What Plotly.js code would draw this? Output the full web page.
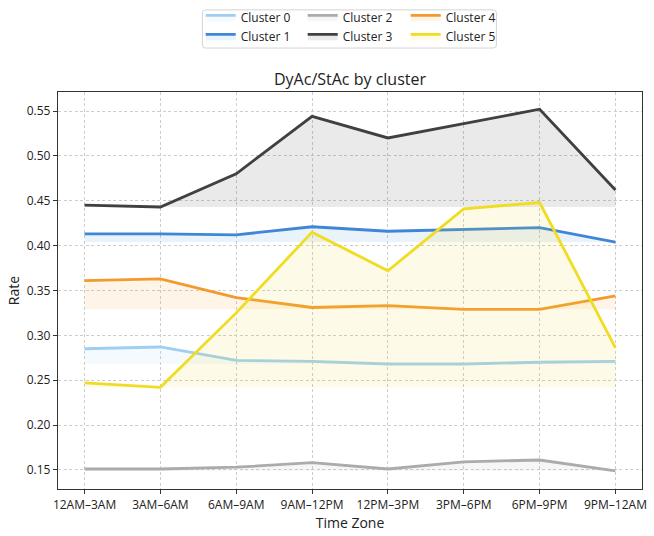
<!DOCTYPE html>
<html>
<head>
<meta charset="utf-8">
<script src="https://cdn.plot.ly/plotly-3.0.1.min.js"></script>
<style>
  html, body { margin: 0; padding: 0; background: #fff; }
  #chart { width: 654px; height: 536px; }
</style>
</head>
<body>
<div id="chart"></div>
<script>
// Time-of-day buckets on the x axis
const timeZones = ['12AM–3AM', '3AM–6AM', '6AM–9AM', '9AM–12PM', '12PM–3PM', '3PM–6PM', '6PM–9PM', '9PM–12AM'];

// DyAc/StAc rate per cluster
const cluster0 = [0.285, 0.287, 0.272, 0.271, 0.268, 0.268, 0.270, 0.271];
const cluster1 = [0.413, 0.413, 0.412, 0.421, 0.416, 0.418, 0.420, 0.404];
const cluster2 = [0.151, 0.151, 0.153, 0.158, 0.151, 0.159, 0.161, 0.149];
const cluster3 = [0.445, 0.443, 0.480, 0.544, 0.520, 0.536, 0.552, 0.462];
const cluster4 = [0.361, 0.363, 0.342, 0.331, 0.333, 0.329, 0.329, 0.344];
const cluster5 = [0.247, 0.242, 0.325, 0.415, 0.372, 0.441, 0.448, 0.286];

const seriesNames = ['Cluster 0', 'Cluster 1', 'Cluster 2', 'Cluster 3', 'Cluster 4', 'Cluster 5'];
const seriesValues = [cluster0, cluster1, cluster2, cluster3, cluster4, cluster5];
const seriesColors = ['#9fcff0', '#3f86d6', '#ababab', '#404040', '#f39a2e', '#f0dc22'];
// legend column each series is listed in
const legendIds = ['legend', 'legend', 'legend2', 'legend2', 'legend3', 'legend3'];

function hexToRgba(hex, a) {
  const n = parseInt(hex.slice(1), 16);
  return 'rgba(' + ((n >> 16) & 255) + ',' + ((n >> 8) & 255) + ',' + (n & 255) + ',' + a + ')';
}

const FONT = '"Open Sans", "DejaVu Sans", sans-serif';
const traces = [];
seriesValues.forEach(function (vals, i) {
  const lo = Math.min.apply(null, vals);
  // invisible baseline at the series minimum, so the shaded band hugs each line
  traces.push({
    x: timeZones, y: vals.map(function () { return lo; }),
    type: 'scatter', mode: 'lines',
    line: { width: 0, color: seriesColors[i] },
    showlegend: false, hoverinfo: 'skip'
  });
  traces.push({
    x: timeZones, y: vals, name: seriesNames[i],
    type: 'scatter', mode: 'lines',
    line: { color: seriesColors[i], width: 2.8 },
    fill: 'tonexty', fillcolor: hexToRgba(seriesColors[i], 0.11),
    legend: legendIds[i]
  });
});

const plotL = 58.3, plotR = 642.3, plotT = 91.7, plotB = 489;
const pw = plotR - plotL, ph = plotB - plotT;
const px2x = function (p) { return (p - plotL) / pw; };
const px2y = function (p) { return 1 + (plotT - p) / ph; };

const legendBase = {
  orientation: 'v', xanchor: 'left', yanchor: 'top', traceorder: 'normal',
  y: px2y(2.5), bgcolor: 'rgba(0,0,0,0)', borderwidth: 0,
  font: { family: FONT, size: 12, color: '#222' },
  itemwidth: 30, tracegroupgap: 0
};

// rounded legend frame
function roundedRect(x0, y0, x1, y1, r) {
  const rx = r / pw, ry = r / ph;
  const X0 = px2x(x0), X1 = px2x(x1), Y0 = px2y(y0), Y1 = px2y(y1);
  return 'M' + (X0 + rx) + ',' + Y0 +
    ' L' + (X1 - rx) + ',' + Y0 + ' Q' + X1 + ',' + Y0 + ' ' + X1 + ',' + (Y0 - ry) +
    ' L' + X1 + ',' + (Y1 + ry) + ' Q' + X1 + ',' + Y1 + ' ' + (X1 - rx) + ',' + Y1 +
    ' L' + (X0 + rx) + ',' + Y1 + ' Q' + X0 + ',' + Y1 + ' ' + X0 + ',' + (Y1 + ry) +
    ' L' + X0 + ',' + (Y0 - ry) + ' Q' + X0 + ',' + Y0 + ' ' + (X0 + rx) + ',' + Y0 + ' Z';
}

const gridStyle = { showgrid: true, gridcolor: '#cdcdcd', griddash: '3px,2.5px', gridwidth: 1 };

const layout = {
  width: 654, height: 536,
  margin: { l: plotL, r: 654 - plotR, t: plotT, b: 536 - plotB, autoexpand: false },
  paper_bgcolor: '#fff', plot_bgcolor: '#fff',
  font: { family: FONT, size: 12, color: '#222' },
  title: {
    text: 'DyAc/StAc by cluster', x: 0.5, xref: 'paper', xanchor: 'center',
    y: 1, yref: 'paper', yanchor: 'bottom', pad: { b: 7 },
    font: { family: FONT, size: 16, color: '#222' }
  },
  xaxis: Object.assign({
    range: [-0.35, 7.35], type: 'category',
    showline: true, linecolor: '#333', linewidth: 1.2, mirror: true,
    ticks: 'outside', ticklen: 4, tickcolor: '#333',
    tickfont: { family: FONT, size: 12, color: '#222' },
    zeroline: false,
    title: { text: 'Time Zone', font: { family: FONT, size: 14, color: '#222' }, standoff: 6 }
  }, gridStyle),
  yaxis: Object.assign({
    range: [0.1287, 0.5712],
    tickvals: [0.15, 0.20, 0.25, 0.30, 0.35, 0.40, 0.45, 0.50, 0.55],
    tickformat: '.2f',
    showline: true, linecolor: '#333', linewidth: 1.2, mirror: true,
    ticks: 'outside', ticklen: 4, tickcolor: '#333',
    tickfont: { family: FONT, size: 12, color: '#222' },
    zeroline: false,
    title: { text: 'Rate', font: { family: FONT, size: 14, color: '#222' }, standoff: 3 }
  }, gridStyle),
  legend: Object.assign({}, legendBase, { x: px2x(201) }),
  legend2: Object.assign({}, legendBase, { x: px2x(303) }),
  legend3: Object.assign({}, legendBase, { x: px2x(406) }),
  shapes: [{
    type: 'path', xref: 'paper', yref: 'paper',
    path: roundedRect(202.7, 9.5, 496.7, 47.7, 3),
    line: { color: '#d4d4d4', width: 1 }, fillcolor: 'rgba(255,255,255,0.9)', layer: 'below'
  }],
  showlegend: true
};

Plotly.newPlot('chart', traces, layout, { displayModeBar: false, staticPlot: true });
</script>
</body>
</html>
